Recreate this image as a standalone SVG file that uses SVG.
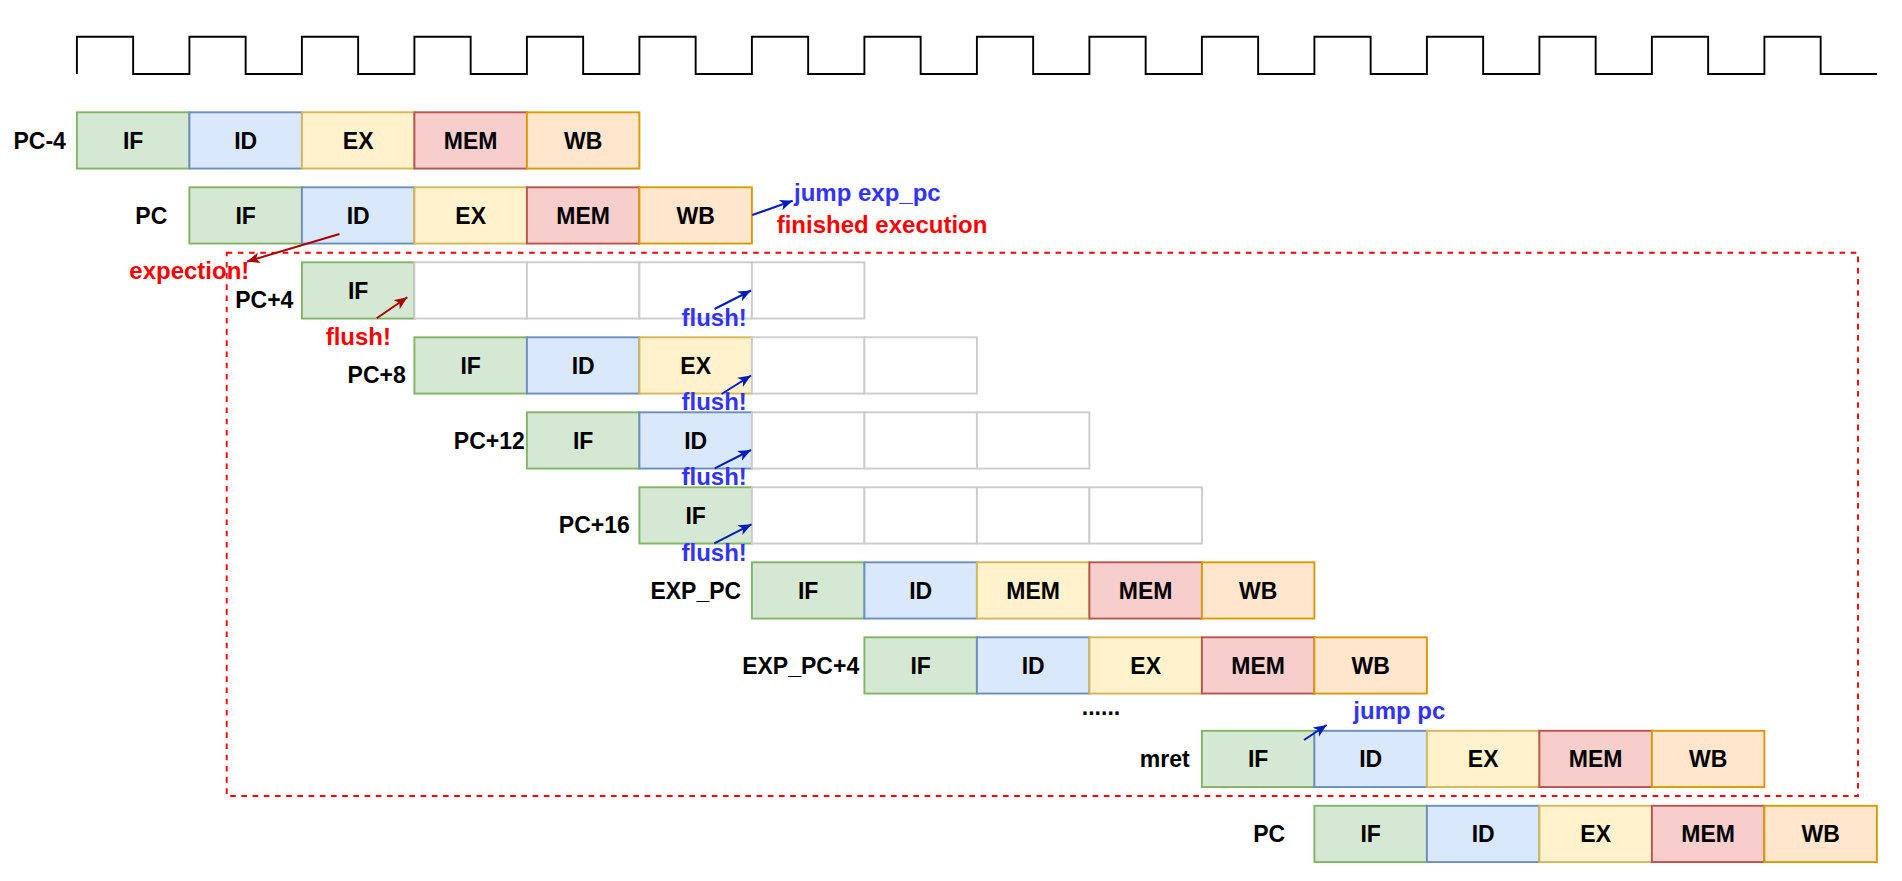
<svg xmlns="http://www.w3.org/2000/svg" width="1902" height="881" viewBox="0 0 1902 881">
<style>
rect{stroke-width:1.9}
.if{fill:#d5e8d4;stroke:#82b366}
.id{fill:#dae8fc;stroke:#6c8ebf}
.ex{fill:#fff2cc;stroke:#d6b656}
.mem{fill:#f8cecc;stroke:#b85450}
.wb{fill:#ffe6cc;stroke:#d79b00}
.em{fill:#ffffff;stroke:#cccccc}
text{font-family:"Liberation Sans",Arial,Helvetica,sans-serif;font-weight:bold}
.t{font-size:23px;fill:#000;text-anchor:middle}
.a{font-size:24px}
.red{fill:#ff0000}
.blue{fill:#3333ff}
.arr-r{stroke:#aa0000;stroke-width:2;fill:none}
.arr-b{stroke:#001dbc;stroke-width:2;fill:none}
</style>
<defs>
<marker id="hr" markerUnits="userSpaceOnUse" markerWidth="14" markerHeight="12" refX="13" refY="5.5" orient="auto"><path d="M0,0 L13,5.5 L0,11 L3.5,5.5 Z" fill="#aa0000"/></marker>
<marker id="hb" markerUnits="userSpaceOnUse" markerWidth="14" markerHeight="12" refX="13" refY="5.5" orient="auto"><path d="M0,0 L13,5.5 L0,11 L3.5,5.5 Z" fill="#001dbc"/></marker>
</defs>
<rect width="1902" height="881" fill="#ffffff" stroke="none"/>
<g id="clock">
<path d="M76.9 74 V36.7 H133.15 V74 H189.4 V36.7 H245.65 V74 H301.9 V36.7 H358.15 V74 H414.4 V36.7 H470.65 V74 H526.9 V36.7 H583.15 V74 H639.4 V36.7 H695.65 V74 H751.9 V36.7 H808.15 V74 H864.4 V36.7 H920.65 V74 H976.9 V36.7 H1033.15 V74 H1089.4 V36.7 H1145.65 V74 H1201.9 V36.7 H1258.15 V74 H1314.4 V36.7 H1370.65 V74 H1426.9 V36.7 H1483.15 V74 H1539.4 V36.7 H1595.65 V74 H1651.9 V36.7 H1708.15 V74 H1764.4 V36.7 H1820.65 V74 H1876.9" fill="none" stroke="#000000" stroke-width="1.9"/>
</g>
<g id="region">
<rect x="226.7" y="252.7" width="1631.3" height="543.3" fill="none" stroke="#ff0000" stroke-width="1.9" stroke-dasharray="5.6 5.6"/>
</g>
<g id="row-pc-4">
<text class="t" x="39.7" y="148.7">PC-4</text>
<rect class="if" x="76.9" y="112.3" width="112.5" height="56.25"/><text class="t" x="133.15" y="148.7">IF</text>
<rect class="id" x="189.4" y="112.3" width="112.5" height="56.25"/><text class="t" x="245.65" y="148.7">ID</text>
<rect class="ex" x="301.9" y="112.3" width="112.5" height="56.25"/><text class="t" x="358.15" y="148.7">EX</text>
<rect class="mem" x="414.4" y="112.3" width="112.5" height="56.25"/><text class="t" x="470.65" y="148.7">MEM</text>
<rect class="wb" x="526.9" y="112.3" width="112.5" height="56.25"/><text class="t" x="583.15" y="148.7">WB</text>
</g>
<g id="row-pc">
<text class="t" x="151.3" y="223.7">PC</text>
<rect class="if" x="189.4" y="187.3" width="112.5" height="56.25"/><text class="t" x="245.65" y="223.7">IF</text>
<rect class="id" x="301.9" y="187.3" width="112.5" height="56.25"/><text class="t" x="358.15" y="223.7">ID</text>
<rect class="ex" x="414.4" y="187.3" width="112.5" height="56.25"/><text class="t" x="470.65" y="223.7">EX</text>
<rect class="mem" x="526.9" y="187.3" width="112.5" height="56.25"/><text class="t" x="583.15" y="223.7">MEM</text>
<rect class="wb" x="639.4" y="187.3" width="112.5" height="56.25"/><text class="t" x="695.65" y="223.7">WB</text>
</g>
<g id="row-pc4">
<text class="t" x="264.3" y="308.3">PC+4</text>
<rect class="if" x="301.9" y="262.3" width="112.5" height="56.25"/><text class="t" x="358.15" y="298.7">IF</text>
<rect class="em" x="414.4" y="262.3" width="112.5" height="56.25"/>
<rect class="em" x="526.9" y="262.3" width="112.5" height="56.25"/>
<rect class="em" x="639.4" y="262.3" width="112.5" height="56.25"/>
<rect class="em" x="751.9" y="262.3" width="112.5" height="56.25"/>
</g>
<g id="row-pc8">
<text class="t" x="376.7" y="383.3">PC+8</text>
<rect class="if" x="414.4" y="337.3" width="112.5" height="56.25"/><text class="t" x="470.65" y="373.7">IF</text>
<rect class="id" x="526.9" y="337.3" width="112.5" height="56.25"/><text class="t" x="583.15" y="373.7">ID</text>
<rect class="ex" x="639.4" y="337.3" width="112.5" height="56.25"/><text class="t" x="695.65" y="373.7">EX</text>
<rect class="em" x="751.9" y="337.3" width="112.5" height="56.25"/>
<rect class="em" x="864.4" y="337.3" width="112.5" height="56.25"/>
</g>
<g id="row-pc12">
<text class="t" x="489.3" y="448.7">PC+12</text>
<rect class="if" x="526.9" y="412.3" width="112.5" height="56.25"/><text class="t" x="583.15" y="448.7">IF</text>
<rect class="id" x="639.4" y="412.3" width="112.5" height="56.25"/><text class="t" x="695.65" y="448.7">ID</text>
<rect class="em" x="751.9" y="412.3" width="112.5" height="56.25"/>
<rect class="em" x="864.4" y="412.3" width="112.5" height="56.25"/>
<rect class="em" x="976.9" y="412.3" width="112.5" height="56.25"/>
</g>
<g id="row-pc16">
<text class="t" x="594.3" y="533.3">PC+16</text>
<rect class="if" x="639.4" y="487.3" width="112.5" height="56.25"/><text class="t" x="695.65" y="523.7">IF</text>
<rect class="em" x="751.9" y="487.3" width="112.5" height="56.25"/>
<rect class="em" x="864.4" y="487.3" width="112.5" height="56.25"/>
<rect class="em" x="976.9" y="487.3" width="112.5" height="56.25"/>
<rect class="em" x="1089.4" y="487.3" width="112.5" height="56.25"/>
</g>
<g id="row-exp-pc">
<text class="t" x="695.8" y="598.7">EXP_PC</text>
<rect class="if" x="751.9" y="562.3" width="112.5" height="56.25"/><text class="t" x="808.15" y="598.7">IF</text>
<rect class="id" x="864.4" y="562.3" width="112.5" height="56.25"/><text class="t" x="920.65" y="598.7">ID</text>
<rect class="ex" x="976.9" y="562.3" width="112.5" height="56.25"/><text class="t" x="1033.15" y="598.7">MEM</text>
<rect class="mem" x="1089.4" y="562.3" width="112.5" height="56.25"/><text class="t" x="1145.65" y="598.7">MEM</text>
<rect class="wb" x="1201.9" y="562.3" width="112.5" height="56.25"/><text class="t" x="1258.15" y="598.7">WB</text>
</g>
<g id="row-exp-pc4">
<text class="t" x="800.7" y="673.7">EXP_PC+4</text>
<rect class="if" x="864.4" y="637.3" width="112.5" height="56.25"/><text class="t" x="920.65" y="673.7">IF</text>
<rect class="id" x="976.9" y="637.3" width="112.5" height="56.25"/><text class="t" x="1033.15" y="673.7">ID</text>
<rect class="ex" x="1089.4" y="637.3" width="112.5" height="56.25"/><text class="t" x="1145.65" y="673.7">EX</text>
<rect class="mem" x="1201.9" y="637.3" width="112.5" height="56.25"/><text class="t" x="1258.15" y="673.7">MEM</text>
<rect class="wb" x="1314.4" y="637.3" width="112.5" height="56.25"/><text class="t" x="1370.65" y="673.7">WB</text>
</g>
<g id="ellipsis">
<text class="t" x="1101" y="715">......</text>
</g>
<g id="row-mret">
<text class="t" x="1164.8" y="767.2">mret</text>
<rect class="if" x="1201.9" y="730.8" width="112.5" height="56.25"/><text class="t" x="1258.15" y="767.2">IF</text>
<rect class="id" x="1314.4" y="730.8" width="112.5" height="56.25"/><text class="t" x="1370.65" y="767.2">ID</text>
<rect class="ex" x="1426.9" y="730.8" width="112.5" height="56.25"/><text class="t" x="1483.15" y="767.2">EX</text>
<rect class="mem" x="1539.4" y="730.8" width="112.5" height="56.25"/><text class="t" x="1595.65" y="767.2">MEM</text>
<rect class="wb" x="1651.9" y="730.8" width="112.5" height="56.25"/><text class="t" x="1708.15" y="767.2">WB</text>
</g>
<g id="row-pc-return">
<text class="t" x="1269.2" y="842.2">PC</text>
<rect class="if" x="1314.4" y="805.8" width="112.5" height="56.25"/><text class="t" x="1370.65" y="842.2">IF</text>
<rect class="id" x="1426.9" y="805.8" width="112.5" height="56.25"/><text class="t" x="1483.15" y="842.2">ID</text>
<rect class="ex" x="1539.4" y="805.8" width="112.5" height="56.25"/><text class="t" x="1595.65" y="842.2">EX</text>
<rect class="mem" x="1651.9" y="805.8" width="112.5" height="56.25"/><text class="t" x="1708.15" y="842.2">MEM</text>
<rect class="wb" x="1764.4" y="805.8" width="112.5" height="56.25"/><text class="t" x="1820.65" y="842.2">WB</text>
</g>
<g id="connectors">
<line class="arr-r" x1="339.5" y1="234" x2="247" y2="261.5" marker-end="url(#hr)"/>
<line class="arr-b" x1="752.3" y1="215" x2="792.7" y2="200.7" marker-end="url(#hb)"/>
<line class="arr-r" x1="376.7" y1="318.3" x2="407.3" y2="297.3" marker-end="url(#hr)"/>
<line class="arr-b" x1="714.5" y1="309" x2="751" y2="290.5" marker-end="url(#hb)"/>
<line class="arr-b" x1="721.6" y1="394" x2="751" y2="375.5" marker-end="url(#hb)"/>
<line class="arr-b" x1="714.7" y1="468.3" x2="751" y2="450" marker-end="url(#hb)"/>
<line class="arr-b" x1="714.3" y1="543.3" x2="751.5" y2="524.3" marker-end="url(#hb)"/>
<line class="arr-b" x1="1304" y1="740" x2="1326.7" y2="725" marker-end="url(#hb)"/>
</g>
<g id="annotations">
<text class="a red" x="129.3" y="279.3">expection!</text>
<text class="a blue" x="794" y="200.7">jump exp_pc</text>
<text class="a red" x="776.7" y="232.7">finished execution</text>
<text class="a red" x="325.7" y="345">flush!</text>
<text class="a blue" x="681.5" y="326">flush!</text>
<text class="a blue" x="681.5" y="410">flush!</text>
<text class="a blue" x="681.5" y="485">flush!</text>
<text class="a blue" x="681.5" y="560.7">flush!</text>
<text class="a blue" x="1353.3" y="719.3">jump pc</text>
</g>
</svg>
